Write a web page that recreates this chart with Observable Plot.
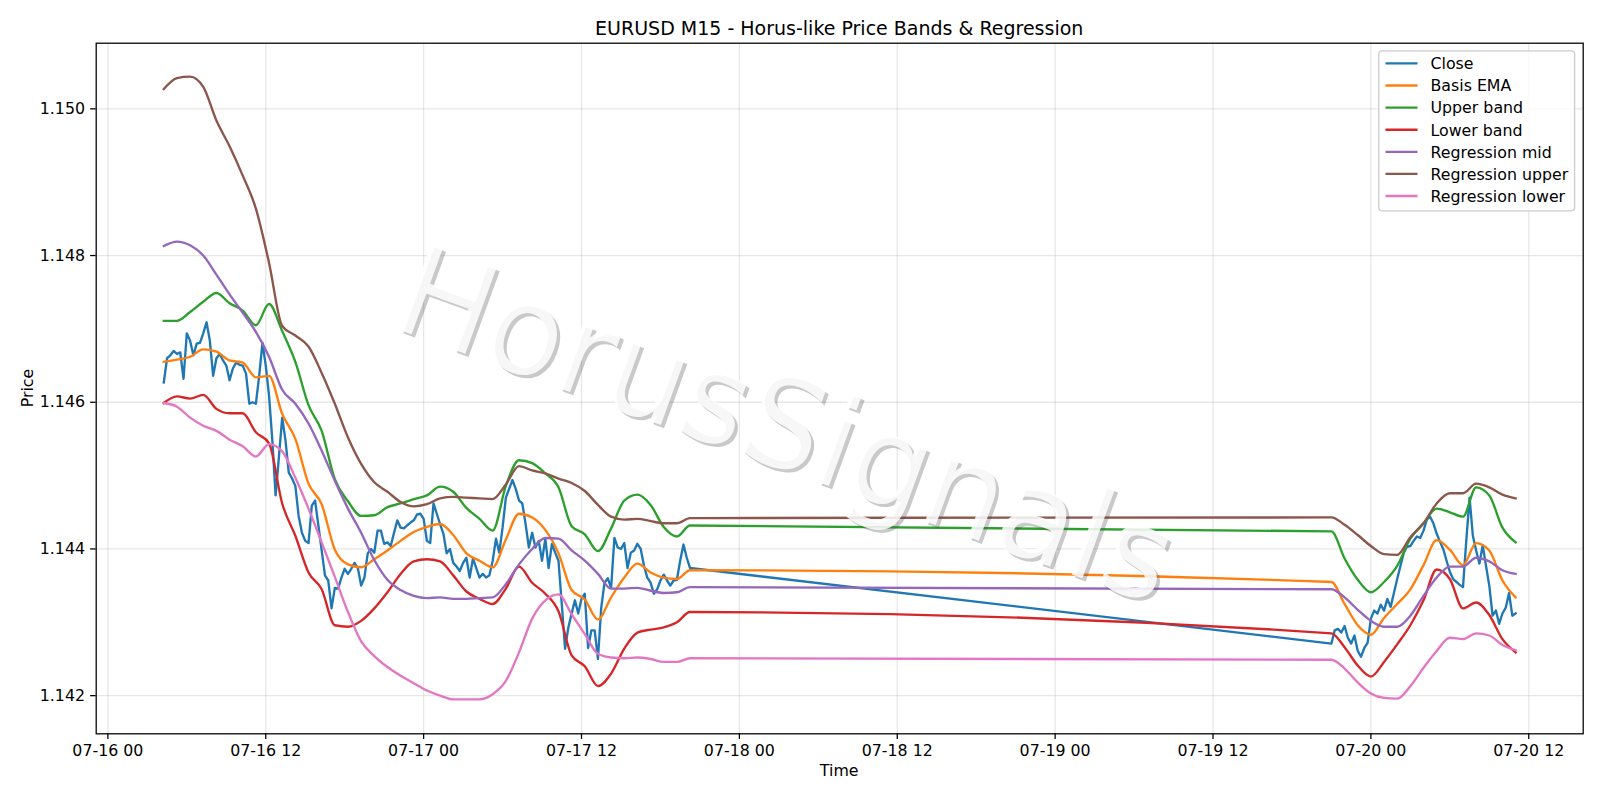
<!DOCTYPE html>
<html><head><meta charset="utf-8">
<script src="https://cdn.jsdelivr.net/npm/d3@7"></script>
<script src="https://cdn.jsdelivr.net/npm/@observablehq/plot@0.6"></script>
<style>body{margin:0;background:#fff} svg{display:block}</style>
</head><body><div id="chart"></div>
<script>
// ---------- data ----------
const titleText = "EURUSD M15 - Horus-like Price Bands & Regression";
const seriesNames = ["Close","Basis EMA","Upper band","Lower band","Regression mid","Regression upper","Regression lower"];
const seriesColors = ["#1f77b4","#ff7f0e","#2ca02c","#d62728","#9467bd","#8c564b","#e377c2"];
const xTickLabels = ["07-16 00","07-16 12","07-17 00","07-17 12","07-18 00","07-18 12","07-19 00","07-19 12","07-20 00","07-20 12"];
const yTicks = [1.142, 1.144, 1.146, 1.148, 1.150];

// session A: 07-16 04:15 .. 07-17 20:15 ; session B: 07-19 21:00 .. 07-20 11:00
const startA = "2025-07-16T04:15Z";
const startB = "2025-07-19T21:00Z";

// Close, every 15 minutes
const closeA = [
1.14627,1.14660,1.14664,1.14670,1.14666,1.14668,1.14632,1.14694,1.14684,1.14664,
1.14680,1.14681,1.14694,1.14709,1.14684,1.14636,1.14660,1.14666,1.14657,1.14650,
1.14630,1.14646,1.14654,1.14651,1.14650,1.14639,1.14598,1.14600,1.14598,1.14636,
1.14681,1.14650,1.14609,1.14548,1.14473,1.14525,1.14579,1.14548,1.14504,1.14496,
1.14486,1.14445,1.14422,1.14411,1.14408,1.14459,1.14466,1.14432,1.14398,1.14364,
1.14357,1.14319,1.14347,1.14346,1.14361,1.14373,1.14366,1.14373,1.14381,1.14374,
1.14350,1.14361,1.14394,1.14400,1.14395,1.14425,1.14425,1.14407,1.14409,1.14404,
1.14422,1.14439,1.14429,1.14428,1.14432,1.14436,1.14439,1.14447,1.14448,1.14441,
1.14411,1.14408,1.14462,1.14448,1.14434,1.14421,1.14394,1.14400,1.14381,1.14376,
1.14370,1.14381,1.14388,1.14361,1.14387,1.14374,1.14361,1.14366,1.14361,1.14364,
1.14384,1.14414,1.14395,1.14429,1.14470,1.14482,1.14494,1.14482,1.14466,1.14462,
1.14434,1.14402,1.14422,1.14402,1.14411,1.14384,1.14414,1.14374,1.14407,1.14395,
1.14384,1.14325,1.14264,1.14293,1.14312,1.14330,1.14312,1.14332,1.14339,1.14265,
1.14289,1.14289,1.14250,1.14320,1.14354,1.14360,1.14347,1.14415,1.14402,1.14400,
1.14408,1.14374,1.14395,1.14398,1.14407,1.14400,1.14377,1.14361,1.14354,1.14339,
1.14345,1.14357,1.14365,1.14357,1.14350,1.14357,1.14358,1.14384,1.14406,1.14388,1.14374];
const closeB = [
1.14271,1.14289,1.14291,1.14286,1.14295,1.14279,1.14271,1.14282,1.14261,1.14253,
1.14265,1.14272,1.14305,1.14316,1.14312,1.14324,1.14316,1.14332,1.14321,1.14340,
1.14359,1.14377,1.14395,1.14403,1.14404,1.14411,1.14417,1.14415,1.14425,1.14440,
1.14444,1.14435,1.14421,1.14410,1.14400,1.14384,1.14369,1.14359,1.14355,1.14351,
1.14348,1.14411,1.14470,1.14418,1.14398,1.14380,1.14405,1.14377,1.14350,1.14309,
1.14316,1.14298,1.14312,1.14320,1.14340,1.14309,1.14312];

// smooth indicator lines, read once per hour
const emaA = [1.14655,1.14658,1.14662,1.14672,1.14669,1.14657,1.14654,1.14634,1.14636,1.14584,1.14550,1.14489,1.14461,1.14399,1.14379,1.14375,1.14386,1.14398,1.14411,1.14423,1.14430,1.14434,1.14419,1.14394,1.14384,1.14375,1.14413,1.14448,1.14443,1.14426,1.14394,1.14344,1.14331,1.14304,1.14334,1.14361,1.14380,1.14368,1.14361,1.14359,1.14371];
const emaB = [1.14355,1.14325,1.14296,1.14283,1.14306,1.14325,1.14345,1.14378,1.14412,1.14399,1.14378,1.14408,1.14398,1.14357,1.14334];
const upperA = [1.14711,1.14711,1.14723,1.14737,1.14749,1.14735,1.14725,1.14705,1.14734,1.14697,1.14655,1.14596,1.14561,1.14495,1.14465,1.14445,1.14446,1.14457,1.14462,1.14468,1.14473,1.14485,1.14478,1.14456,1.14441,1.14425,1.14486,1.14521,1.14517,1.14503,1.14484,1.14431,1.14420,1.14397,1.14428,1.14466,1.14474,1.14460,1.14430,1.14417,1.14432];
const upperB = [1.14424,1.14387,1.14358,1.14341,1.14355,1.14377,1.14414,1.14435,1.14455,1.14450,1.14444,1.14484,1.14473,1.14429,1.14409];
const lowerA = [1.14599,1.14608,1.14605,1.14610,1.14591,1.14585,1.14585,1.14559,1.14544,1.14462,1.14418,1.14368,1.14345,1.14296,1.14294,1.14302,1.14319,1.14341,1.14366,1.14383,1.14386,1.14383,1.14364,1.14342,1.14332,1.14325,1.14346,1.14376,1.14354,1.14339,1.14315,1.14255,1.14240,1.14213,1.14230,1.14264,1.14286,1.14290,1.14293,1.14300,1.14314];
const lowerB = [1.14285,1.14266,1.14241,1.14226,1.14246,1.14270,1.14296,1.14330,1.14372,1.14359,1.14319,1.14327,1.14310,1.14277,1.14259];
const regMidA = [1.14813,1.14819,1.14814,1.14800,1.14774,1.14747,1.14722,1.14696,1.14662,1.14617,1.14598,1.14571,1.14534,1.14493,1.14455,1.14422,1.14385,1.14358,1.14344,1.14336,1.14333,1.14334,1.14332,1.14332,1.14333,1.14334,1.14352,1.14379,1.14400,1.14415,1.14414,1.14398,1.14384,1.14366,1.14346,1.14346,1.14347,1.14343,1.14340,1.14341,1.14348];
const regMidB = [1.14345,1.14334,1.14317,1.14302,1.14294,1.14294,1.14309,1.14336,1.14361,1.14376,1.14376,1.14388,1.14383,1.14371,1.14366];
const regUpA = [1.15027,1.15042,1.15044,1.15030,1.14984,1.14949,1.14909,1.14864,1.14790,1.14704,1.14691,1.14676,1.14640,1.14598,1.14552,1.14516,1.14491,1.14478,1.14464,1.14458,1.14461,1.14469,1.14471,1.14470,1.14469,1.14468,1.14488,1.14513,1.14507,1.14503,1.14496,1.14490,1.14479,1.14460,1.14444,1.14440,1.14441,1.14438,1.14435,1.14435,1.14442];
const regUpB = [1.14443,1.14433,1.14419,1.14404,1.14393,1.14392,1.14416,1.14435,1.14462,1.14476,1.14476,1.14489,1.14484,1.14474,1.14469];
const regLoA = [1.14599,1.14594,1.14579,1.14568,1.14561,1.14549,1.14540,1.14526,1.14543,1.14533,1.14497,1.14455,1.14409,1.14362,1.14314,1.14274,1.14254,1.14239,1.14227,1.14217,1.14207,1.14200,1.14195,1.14195,1.14195,1.14202,1.14220,1.14259,1.14305,1.14330,1.14338,1.14311,1.14284,1.14257,1.14252,1.14251,1.14252,1.14250,1.14246,1.14246,1.14251];
const regLoB = [1.14249,1.14237,1.14218,1.14203,1.14197,1.14196,1.14213,1.14238,1.14261,1.14279,1.14277,1.14285,1.14282,1.14269,1.14262];

// ---------- build rows ----------
function rows(valsA, valsB, stepMin) {
  const a = new Date(startA), b = new Date(startB);
  return [
    ...valsA.map((v, i) => ({t: d3.utcMinute.offset(a, i * stepMin), v})),
    ...valsB.map((v, i) => ({t: d3.utcMinute.offset(b, i * stepMin), v}))
  ];
}
const data = [
  rows(closeA, closeB, 15),
  rows(emaA, emaB, 60),
  rows(upperA, upperB, 60),
  rows(lowerA, lowerB, 60),
  rows(regMidA, regMidB, 60),
  rows(regUpA, regUpB, 60),
  rows(regLoA, regLoB, 60)
];
const parseTick = d3.utcParse("%Y-%m-%d %H");
const xTicks = xTickLabels.map(s => parseTick("2025-" + s));
const xDomain = [new Date(Date.UTC(2025,6,15,23,6,45)), new Date(Date.UTC(2025,6,20,16,8,15))];

const W = 1600, H = 800;
const mL = 95.7, mR = 17.3, mT = 42.7, mB = 66.7;
const FS = 15.8;

const marks = [
  Plot.gridX(xTicks, {stroke: "#b0b0b0", strokeOpacity: 0.3, strokeWidth: 1.27}),
  Plot.gridY(yTicks, {stroke: "#b0b0b0", strokeOpacity: 0.3, strokeWidth: 1.27}),
  ...data.map((d, i) => Plot.line(d, {x: "t", y: "v", stroke: seriesColors[i], strokeWidth: 2.35,
      curve: i === 0 ? "linear" : "monotone-x", strokeLinejoin: "round", strokeLinecap: "square"})),
  Plot.axisX(xTicks, {tickFormat: d3.utcFormat("%m-%d %H"), tickSize: 5.6, tickPadding: 5.2, strokeWidth: 1.27, fontSize: FS, label: null, fill: "black"}),
  Plot.axisY(yTicks, {tickFormat: d3.format(".3f"), tickSize: 5.6, tickPadding: 5.6, strokeWidth: 1.27, fontSize: FS, label: null, fill: "black"}),
  Plot.frame({stroke: "black", strokeWidth: 1.27})
];

const chart = Plot.plot({
  width: W, height: H,
  marginLeft: mL, marginRight: mR, marginTop: mT, marginBottom: mB,
  x: {type: "utc", domain: xDomain},
  y: {domain: [1.14148, 1.150895]},
  style: {fontFamily: "DejaVu Sans", fontSize: FS + "px", background: "white", color: "black", overflow: "visible"},
  marks
});
document.getElementById("chart").appendChild(chart);

const svg = d3.select(chart);
const cx = (mL + (W - mR)) / 2;
// title
svg.append("text").attr("x", cx).attr("y", 34.5).attr("text-anchor", "middle")
  .attr("font-family", "DejaVu Sans").attr("font-size", 19).attr("fill", "black").text(titleText);
// axis labels
svg.append("text").attr("x", cx).attr("y", 776).attr("text-anchor", "middle")
  .attr("font-family", "DejaVu Sans").attr("font-size", FS).attr("fill", "black").text("Time");
svg.append("text").attr("transform", `translate(32.5,${(mT + H - mB) / 2}) rotate(-90)`).attr("text-anchor", "middle")
  .attr("font-family", "DejaVu Sans").attr("font-size", FS).attr("fill", "black").text("Price");

// watermark (drawn above the lines): white text with a soft grey drop shadow
const wm = svg.append("g").attr("font-family", "DejaVu Sans").attr("font-size", 125).attr("text-anchor", "middle");
wm.append("text").attr("transform", "translate(774.8,468.5) rotate(20)")
  .attr("fill", "rgb(77,77,77)").attr("fill-opacity", 0.3).text("HorusSignals");
wm.append("text").attr("transform", "translate(771.6,465.3) rotate(20)")
  .attr("fill", "white").attr("fill-opacity", 0.85).text("HorusSignals");

// legend
const lg = svg.append("g").attr("font-family", "DejaVu Sans").attr("font-size", FS).attr("text-anchor", "start");
lg.append("rect").attr("x", 1378.8).attr("y", 50.8).attr("width", 195.8).attr("height", 160)
  .attr("rx", 3.2).attr("fill", "white").attr("fill-opacity", 0.8).attr("stroke", "#cccccc").attr("stroke-width", 1.27);
seriesNames.forEach((name, i) => {
  const y = 63.4 + i * 22.1;
  lg.append("line").attr("x1", 1385.5).attr("x2", 1417.5).attr("y1", y).attr("y2", y)
    .attr("stroke", seriesColors[i]).attr("stroke-width", 2.35);
  lg.append("text").attr("x", 1430.5).attr("y", y + 5.8).attr("fill", "black").attr("text-anchor", "start").text(name);
});
</script>
</body></html>
